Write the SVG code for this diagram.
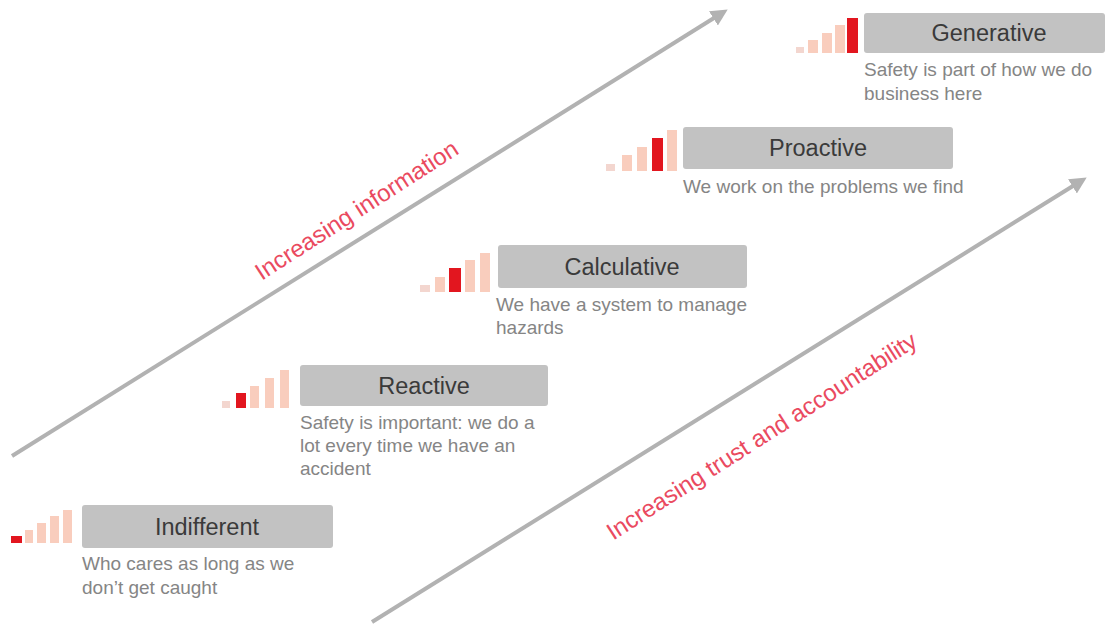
<svg xmlns="http://www.w3.org/2000/svg" width="1107" height="627" viewBox="0 0 1107 627">
  <defs>
    <style>
      .box { fill: #c2c2c2; }
      .title { font-family: "Liberation Sans", Arial, sans-serif; font-size: 23.5px; fill: #3a3a3a; text-anchor: middle; }
      .desc { font-family: "Liberation Sans", Arial, sans-serif; font-size: 19px; fill: #858585; }
      .lvl { fill: #f9cdbd; }
      .lvl0 { fill: #f3d6cf; }
      .on { fill: #e2161f; }
      .axis { stroke: #b2b2b2; stroke-width: 4; fill: none; }
      .axis-label { font-family: "Liberation Sans", Arial, sans-serif; font-size: 24px; fill: #ea4a5f; text-anchor: middle; }
    </style>
    <marker id="head" viewBox="0 0 10 10" refX="6" refY="5" markerWidth="4.2" markerHeight="4.2" orient="auto" markerUnits="strokeWidth">
      <path d="M0,0 L10,5 L0,10 Z" fill="#b2b2b2"/>
    </marker>
  </defs>

  <rect width="1107" height="627" fill="#ffffff"/>

  <!-- axes -->
  <g id="connectors">
    <line class="axis" x1="12" y1="456" x2="722" y2="13" marker-end="url(#head)"/>
    <line class="axis" x1="372" y1="622" x2="1081" y2="181" marker-end="url(#head)"/>
    <text class="axis-label" transform="translate(361,217) rotate(-32.8)">Increasing information</text>
    <text class="axis-label" transform="translate(766,443) rotate(-32.6)">Increasing trust and accountability</text>
  </g>

  <!-- level 1 -->
  <g id="indifferent">
    <rect class="on" x="11" y="536" width="11" height="7"/>
    <rect class="lvl" x="25" y="530" width="8" height="13"/>
    <rect class="lvl" x="37" y="523" width="9" height="20"/>
    <rect class="lvl" x="50" y="516" width="9" height="27"/>
    <rect class="lvl" x="63" y="510" width="9" height="33"/>
    <rect class="box" x="82" y="505" width="251" height="43" rx="3"/>
    <text class="title" x="207" y="535">Indifferent</text>
    <text class="desc" x="82" y="570">Who cares as long as we</text>
    <text class="desc" x="82" y="594">don’t get caught</text>
  </g>

  <!-- level 2 -->
  <g id="reactive">
    <rect class="lvl0" x="222" y="401" width="8" height="7"/>
    <rect class="on" x="236" y="393" width="10" height="15"/>
    <rect class="lvl" x="250" y="386" width="9" height="22"/>
    <rect class="lvl" x="265" y="378" width="9" height="30"/>
    <rect class="lvl" x="280" y="370" width="9" height="38"/>
    <rect class="box" x="300" y="365" width="248" height="41" rx="3"/>
    <text class="title" x="424" y="394">Reactive</text>
    <text class="desc" x="300" y="429">Safety is important: we do a</text>
    <text class="desc" x="300" y="452">lot every time we have an</text>
    <text class="desc" x="300" y="475">accident</text>
  </g>

  <!-- level 3 -->
  <g id="calculative">
    <rect class="lvl0" x="420" y="285" width="10" height="7"/>
    <rect class="lvl" x="435" y="277" width="10" height="15"/>
    <rect class="on" x="449" y="268" width="12" height="24"/>
    <rect class="lvl" x="465" y="260" width="10" height="32"/>
    <rect class="lvl" x="480" y="253" width="10" height="39"/>
    <rect class="box" x="498" y="245" width="249" height="43" rx="3"/>
    <text class="title" x="622" y="275">Calculative</text>
    <text class="desc" x="496" y="311">We have a system to manage</text>
    <text class="desc" x="496" y="334">hazards</text>
  </g>

  <!-- level 4 -->
  <g id="proactive">
    <rect class="lvl0" x="606" y="164" width="9" height="7"/>
    <rect class="lvl" x="622" y="155" width="10" height="16"/>
    <rect class="lvl" x="637" y="147" width="10" height="24"/>
    <rect class="on" x="652" y="138" width="11" height="33"/>
    <rect class="lvl" x="667" y="130" width="10" height="41"/>
    <rect class="box" x="683" y="127" width="270" height="42" rx="3"/>
    <text class="title" x="818" y="156">Proactive</text>
    <text class="desc" x="683" y="193">We work on the problems we find</text>
  </g>

  <!-- level 5 -->
  <g id="generative">
    <rect class="lvl0" x="796" y="47" width="8" height="6"/>
    <rect class="lvl" x="808" y="40" width="10" height="13"/>
    <rect class="lvl" x="822" y="33" width="10" height="20"/>
    <rect class="lvl" x="835" y="25" width="10" height="28"/>
    <rect class="on" x="847" y="18" width="11" height="35"/>
    <rect class="box" x="864" y="13" width="241" height="40" rx="3"/>
    <text class="title" x="989" y="41">Generative</text>
    <text class="desc" x="864" y="76">Safety is part of how we do</text>
    <text class="desc" x="864" y="100">business here</text>
  </g>
</svg>
